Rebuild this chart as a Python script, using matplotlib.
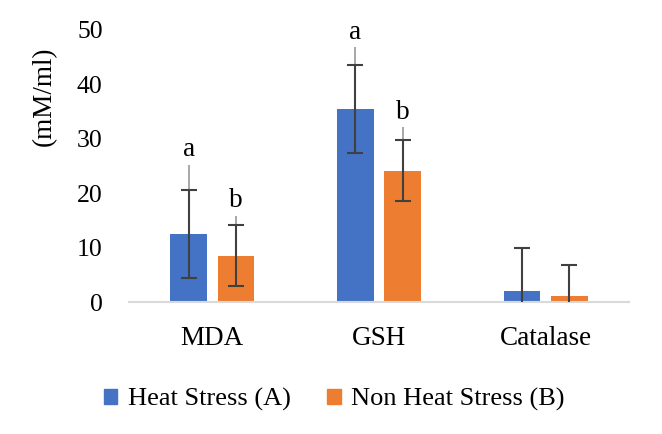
import matplotlib
matplotlib.use("Agg")
import matplotlib.pyplot as plt
import numpy as np
from matplotlib.patches import Patch

categories = ["MDA", "GSH", "Catalase"]
series_names = ["Heat Stress (A)", "Non Heat Stress (B)"]
heat = [12.5, 35.4, 2.0]
heat_err = [8.1, 8.1, 8.0]
heat_upper_range = [12.7, 11.4, 0.0]
non_heat = [8.5, 24.1, 1.2]
non_err = [5.6, 5.6, 5.6]
non_upper_range = [7.4, 8.0, 0.0]
heat_letters = ["a", "a", ""]
non_letters = ["b", "b", ""]
yticks = [0, 10, 20, 30, 40, 50]

plt.rcParams['font.family'] = ['Liberation Serif', 'DejaVu Serif']

fig = plt.figure(figsize=(6.62, 4.34), dpi=100)
ax = fig.add_axes([0.195, 0.304, 0.755, 0.627])

x = np.arange(len(categories))
w = 0.22
off = 0.142
blue = "#4472C4"
orange = "#ED7D31"
dark = "#404040"
gray = "#A0A0A0"

ax.bar(x - off, heat, w, color=blue, zorder=2)
ax.bar(x + off, non_heat, w, color=orange, zorder=2)

# light range lines (upper only, no caps)
ax.errorbar(x - off, heat, yerr=[np.zeros(3), heat_upper_range], fmt="none",
            ecolor=gray, elinewidth=1.3, capsize=0, zorder=3)
ax.errorbar(x + off, non_heat, yerr=[np.zeros(3), non_upper_range], fmt="none",
            ecolor=gray, elinewidth=1.3, capsize=0, zorder=3)
# dark capped error bars
ax.errorbar(x - off, heat, yerr=heat_err, fmt="none", ecolor=dark,
            elinewidth=1.5, capsize=6, capthick=1.5, zorder=4)
ax.errorbar(x + off, non_heat, yerr=non_err, fmt="none", ecolor=dark,
            elinewidth=1.5, capsize=6, capthick=1.5, zorder=4)

for i in range(len(categories)):
    if heat_letters[i]:
        top = heat[i] + heat_upper_range[i]
        ax.annotate(heat_letters[i], (x[i] - off, top), xytext=(0, 11),
                    textcoords="offset points", ha="center", va="center",
                    fontsize=19.5, annotation_clip=False)
    if non_letters[i]:
        top = non_heat[i] + non_upper_range[i]
        ax.annotate(non_letters[i], (x[i] + off, top), xytext=(0, 11),
                    textcoords="offset points", ha="center", va="center",
                    fontsize=19.5, annotation_clip=False)

ax.set_xlim(-0.5, 2.5)
ax.set_ylim(0, 50)
ax.set_yticks(yticks)
ax.set_xticks(x)
ax.set_xticklabels(categories)
ax.tick_params(axis="both", length=0)
ax.tick_params(axis="y", pad=19, labelsize=18.5)
ax.tick_params(axis="x", pad=17, labelsize=19.5)
for s in ["top", "right", "left"]:
    ax.spines[s].set_visible(False)
ax.spines["bottom"].set_color("#D9D9D9")
ax.spines["bottom"].set_linewidth(1.5)

ax.set_ylabel("(mM/ml)", fontsize=19.5)
ax.yaxis.set_label_coords(-0.144, 0.755)

handles = [Patch(color=blue), Patch(color=orange)]
fig.legend(handles, series_names, loc="center", bbox_to_anchor=(0.505, 0.080),
           ncol=2, frameon=False, fontsize=19, handlelength=0.5, handleheight=0.5,
           handletextpad=0.4, columnspacing=1.4)

fig.savefig("out.png", dpi=100)
